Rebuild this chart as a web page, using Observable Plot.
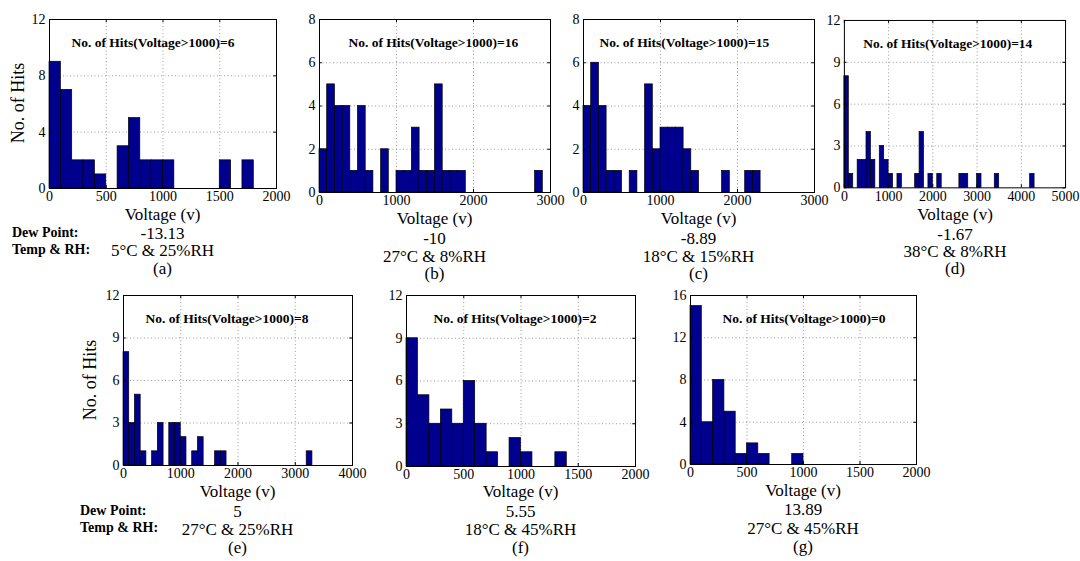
<!DOCTYPE html>
<html><head><meta charset="utf-8">
<script src="https://cdn.jsdelivr.net/npm/d3@7"></script>
<script src="https://cdn.jsdelivr.net/npm/@observablehq/plot@0.6"></script>
<style>
body{margin:0;background:#fff;}
#wrap{position:relative;width:1080px;height:561px;overflow:hidden;background:#fff;font-family:"Liberation Serif","Times New Roman",Times,Tinos,"DejaVu Serif",serif;color:#000;}
.panel{position:absolute;}
.cap{position:absolute;transform:translate(-50%,-50%);white-space:nowrap;font-size:17px;line-height:1;}
.lab{position:absolute;transform:translate(0,-50%);white-space:nowrap;font-size:14px;font-weight:bold;line-height:1;}
.ylab{position:absolute;transform:translate(-50%,-50%) rotate(-90deg);white-space:nowrap;font-size:18px;line-height:1;}
</style></head><body><div id="wrap"></div>
<script>
// ---- data (counts per 100 V bin, starting at 0 V) ----
const binWidth = 100;
const countsA = [9,7,2,2,1,0,3,5,2,2,2,0,0,0,0,2,0,2,0,0];
const countsB = [2,5,4,4,1,4,1,0,2,0,1,1,3,1,1,5,1,1,1,0,0,0,0,0,0,0,0,0,1,0];
const countsC = [4,6,4,1,1,0,1,0,5,2,3,3,3,2,1,0,0,0,1,0,0,1,1,0,0,0,0,0,0,0];
const countsD = [8,1,0,2,2,4,2,0,3,2,1,0,1,0,0,0,1,4,0,1,0,1,0,0,0,0,1,1,0,0,1,0,0,0,1,0,0,0,0,0,0,0,1,0,0,0,0,0,0,0];
const countsE = [8,3,5,1,0,1,3,0,3,3,2,0,1,2,0,0,1,1,0,0,0,0,0,0,0,0,0,0,0,0,0,0,1,0,0,0,0,0,0,0];
const countsF = [9,5,3,4,3,6,3,1,0,2,1,0,0,1,0,0,0,0,0,0];
const countsG = [15,4,8,5,1,2,1,0,0,1,0,0,0,0,0,0,0,0,0,0];
const hitsAbove1000 = [6,16,15,14,8,2,0];
const dewPoints = ["-13.13","-10","-8.89","-1.67","5","5.55","13.89"];
const conditions = ["5°C & 25%RH","27°C & 8%RH","18°C & 15%RH","38°C & 8%RH","27°C & 25%RH","18°C & 45%RH","27°C & 45%RH"];
const panelLabels = ["(a)","(b)","(c)","(d)","(e)","(f)","(g)"];
const xTicksA = [0,500,1000,1500,2000];
const xTicksB = [0,1000,2000,3000];
const xTicksC = [0,1000,2000,3000];
const xTicksD = [0,1000,2000,3000,4000,5000];
const xTicksE = [0,1000,2000,3000,4000];
const xTicksF = [0,500,1000,1500,2000];
const xTicksG = [0,500,1000,1500,2000];
const yTicksA = [0,4,8,12];
const yTicksB = [0,2,4,6,8];
const yTicksC = [0,2,4,6,8];
const yTicksD = [0,3,6,9,12];
const yTicksE = [0,3,6,9,12];
const yTicksF = [0,3,6,9,12];
const yTicksG = [0,4,8,12,16];

// ---- layout ----
const layout = [
  {left:49,  top:19,  w:227, h:169, titleDx:22, capY:[214,233,250,268]},
  {left:319, top:19,  w:231, h:173, titleDx:29, capY:[218,238,256,273]},
  {left:583, top:19,  w:231, h:173, titleDx:16, capY:[218,238,256,273]},
  {left:844, top:20,  w:222, h:168, titleDx:19, capY:[214,234,251,268]},
  {left:123, top:295, w:229, h:170, titleDx:22, capY:[491,511,529,547]},
  {left:406, top:295, w:229, h:171, titleDx:27, capY:[491,511,529,547]},
  {left:690, top:295, w:226, h:169, titleDx:32, capY:[490,509,528,546]}
];
const allCounts = [countsA,countsB,countsC,countsD,countsE,countsF,countsG];
const allX = [xTicksA,xTicksB,xTicksC,xTicksD,xTicksE,xTicksF,xTicksG];
const allY = [yTicksA,yTicksB,yTicksC,yTicksD,yTicksE,yTicksF,yTicksG];
const mL = 32, mR = 15, mT = 8, mB = 22;
const serif = '"Liberation Serif","Times New Roman",Times,Tinos,"DejaVu Serif",serif';

function panel(counts, xTicks, yTicks, hitsN, L) {
  const xmax = xTicks[xTicks.length-1], ymax = yTicks[yTicks.length-1];
  const bins = counts.map((c,i)=>({x1:i*binWidth, x2:(i+1)*binWidth, c})).filter(d=>d.c>0);
  const innerX = xTicks.slice(1,-1), innerY = yTicks.slice(1,-1);
  const tx = ymax*0.018, ty = xmax*0.012;
  return Plot.plot({
    width: L.w+mL+mR, height: L.h+mT+mB,
    marginLeft: mL, marginRight: mR, marginTop: mT, marginBottom: mB,
    style: {fontFamily:serif, fontSize:"14px", background:"transparent", overflow:"visible", color:"#000"},
    x: {domain:[0,xmax], ticks:xTicks, tickSize:0, tickPadding:3, tickFormat:d3.format("d"), label:null},
    y: {domain:[0,ymax], ticks:yTicks, tickSize:0, tickPadding:4, label:null},
    marks: [
      Plot.ruleX(innerX, {stroke:"#9a9a9a", strokeDasharray:"1,2.5"}),
      Plot.ruleY(innerY, {stroke:"#9a9a9a", strokeDasharray:"1,2.5"}),
      Plot.rectY(bins, {x1:"x1", x2:"x2", y1:0, y2:"c", fill:"#00008f", stroke:"#000", strokeWidth:0.7}),
      Plot.ruleX(xTicks, {y1:0, y2:tx, stroke:"#000"}),
      Plot.ruleX(xTicks, {y1:ymax-tx, y2:ymax, stroke:"#000"}),
      Plot.ruleY(yTicks, {x1:0, x2:ty, stroke:"#000"}),
      Plot.ruleY(yTicks, {x1:xmax-ty, x2:xmax, stroke:"#000"}),
      Plot.frame({stroke:"#000"}),
      Plot.text([`No. of Hits(Voltage>1000)=${hitsN}`], {frameAnchor:"top-left", dx:L.titleDx, dy:18, textAnchor:"start", fontWeight:"bold", fontSize:13.5})
    ]
  });
}

const wrap = document.getElementById("wrap");
function addDiv(cls, text, x, y) {
  const d = document.createElement("div");
  d.className = cls; d.textContent = text;
  d.style.left = x + "px"; d.style.top = y + "px";
  wrap.appendChild(d);
}
layout.forEach((L, i) => {
  const svg = panel(allCounts[i], allX[i], allY[i], hitsAbove1000[i], L);
  const holder = document.createElement("div");
  holder.className = "panel";
  holder.style.left = (L.left - mL) + "px";
  holder.style.top = (L.top - mT) + "px";
  holder.appendChild(svg);
  wrap.appendChild(holder);
  const cx = L.left + L.w/2;
  addDiv("cap", "Voltage (v)", cx, L.capY[0]);
  addDiv("cap", dewPoints[i], cx, L.capY[1]);
  addDiv("cap", conditions[i], cx, L.capY[2]);
  addDiv("cap", panelLabels[i], cx, L.capY[3]);
});
addDiv("ylab", "No. of Hits", 18, 103);
addDiv("ylab", "No. of Hits", 90, 380);
addDiv("lab", "Dew Point:", 12, 233);
addDiv("lab", "Temp & RH:", 12, 250);
addDiv("lab", "Dew Point:", 80, 511);
addDiv("lab", "Temp & RH:", 80, 528);
</script></body></html>
